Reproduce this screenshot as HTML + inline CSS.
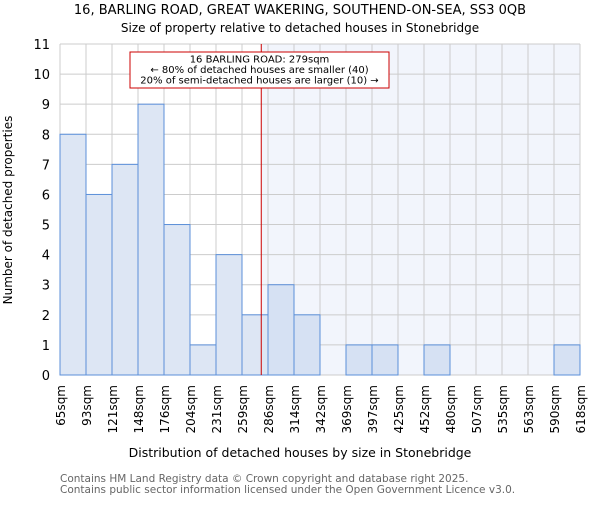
<!DOCTYPE html>
<html><head><meta charset="utf-8"><style>
body{margin:0;background:#fff}
svg{font-family:"DejaVu Sans","Liberation Sans",sans-serif}
</style></head><body>
<svg id="c" width="600" height="500">
<text x="300" y="14" text-anchor="middle" font-size="13">16, BARLING ROAD, GREAT WAKERING, SOUTHEND-ON-SEA, SS3 0QB</text>
<text x="300" y="32" text-anchor="middle" font-size="12">Size of property relative to detached houses in Stonebridge</text>
<text x="300" y="457" text-anchor="middle" font-size="12.5">Distribution of detached houses by size in Stonebridge</text>
<text transform="translate(12,210) rotate(-90)" text-anchor="middle" font-size="12">Number of detached properties</text>
<text x="60" y="482" font-size="10.5" fill="#666">Contains HM Land Registry data © Crown copyright and database right 2025.</text>
<text x="60" y="493" font-size="10.5" fill="#666">Contains public sector information licensed under the Open Government Licence v3.0.</text>
<g id="plot"></g>
</svg>
<script>
const categories=["65sqm","93sqm","121sqm","148sqm","176sqm","204sqm","231sqm","259sqm","286sqm","314sqm","342sqm","369sqm","397sqm","425sqm","452sqm","480sqm","507sqm","535sqm","563sqm","590sqm","618sqm"];
const counts=[8,6,7,9,5,1,4,2,3,2,0,1,1,0,1,0,0,0,0,1];
const edgeValues=[65,93,121,148,176,204,231,259,286,314,342,369,397,425,452,480,507,535,563,590,618];
const yTicks=[0,1,2,3,4,5,6,7,8,9,10,11];
const propertySize=279;
const NS="http://www.w3.org/2000/svg";
const L=60,R=580,T=44,B=375,YMAX=11;
const bw=(R-L)/counts.length;
const xs=i=>L+i*bw;
const ys=v=>B-(v/YMAX)*(B-T);
function xv(v){for(let i=0;i<edgeValues.length-1;i++){if(v<=edgeValues[i+1])return xs(i)+(v-edgeValues[i])/(edgeValues[i+1]-edgeValues[i])*bw;}return R;}
const g=document.getElementById('plot');
function el(t,a){const e=document.createElementNS(NS,t);for(const k in a)e.setAttribute(k,a[k]);g.appendChild(e);return e;}
const px=xv(propertySize);
let e=el('rect',{x:px,y:T,width:R-px,height:B-T,fill:'#f2f5fc'});


yTicks.forEach(v=>{let l=el('line',{x1:L,x2:R,y1:ys(v),y2:ys(v),stroke:'#ccc','stroke-width':1});


let t=el('text',{x:L-10,y:ys(v)+5,'text-anchor':'end','font-size':13});t.textContent=v;

});
categories.forEach((c,i)=>{let l=el('line',{x1:xs(i),x2:xs(i),y1:T,y2:B,stroke:'#ccc','stroke-width':1});


let t=el('text',{transform:`translate(${xs(i)+5},${B+10}) rotate(-90)`,'text-anchor':'end','font-size':12});t.textContent=c;

});
counts.forEach((v,i)=>{if(!v)return;const x=xs(i);let r=el('rect',{x:x,y:ys(v),width:bw,height:B-ys(v),fill:x>=px?'#d6e1f3':'#dde6f4',stroke:'#5b8fd9','stroke-width':1});

});
let pl=el('line',{x1:px,x2:px,y1:T,y2:B,stroke:'#c00','stroke-width':1});


let bx=el('rect',{x:130,y:52,width:259,height:36,fill:'#fff',stroke:'#c00','stroke-width':1});


["16 BARLING ROAD: 279sqm","← 80% of detached houses are smaller (40)","20% of semi-detached houses are larger (10) →"].forEach((s,k)=>{let t=el('text',{x:259.5,y:62.5+k*10.5,'text-anchor':'middle','font-size':10});t.textContent=s;

});
</script>
</body></html>
